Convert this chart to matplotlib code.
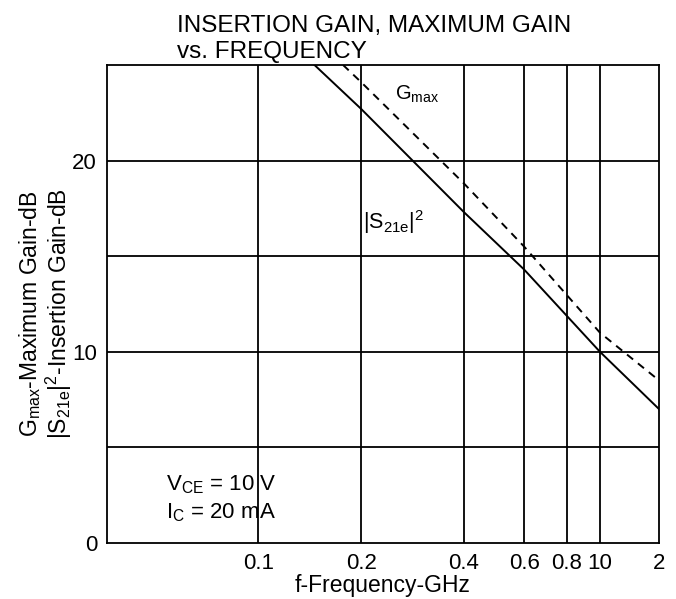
import matplotlib.pyplot as plt

plt.rcParams['font.family'] = ['Liberation Sans', 'DejaVu Sans']
plt.rcParams['mathtext.fontset'] = 'custom'
plt.rcParams['mathtext.rm'] = 'Liberation Sans'

# insertion gain |S21e|^2 (solid) and maximum gain Gmax (dashed)
freq_s21 = [0.146, 0.2, 0.4, 0.6, 1.0, 1.49]
gain_s21 = [25.0, 22.7, 17.3, 14.3, 10.0, 7.0]
freq_gmax = [0.177, 0.2, 0.4, 0.6, 1.0, 1.49]
gain_gmax = [25.0, 24.1, 18.8, 15.5, 11.0, 8.5]

# axis ticks as printed on the sheet (right edge is labelled "2", 1.0 is printed "10")
x_ticks = [0.1, 0.2, 0.4, 0.6, 0.8, 1.0, 1.49]
x_labels = ['0.1', '0.2', '0.4', '0.6', '0.8', '10', '2']
x_grid = [0.1, 0.2, 0.4, 0.6, 0.8, 1.0]
y_ticks = [0, 10, 20]
y_grid = [5, 10, 15, 20]

fig = plt.figure(figsize=(6.76, 5.99), dpi=100)
ax = fig.add_axes([0.158, 0.0935, 0.817, 0.798])

ax.plot(freq_s21, gain_s21, color='black', lw=1.4)
ax.plot(freq_gmax, gain_gmax, color='black', lw=1.4, ls=(0, (4, 3.2)))

ax.set_xscale('log')
ax.set_xlim(0.036, 1.49)
ax.set_ylim(0, 25)

for x in x_grid:
    ax.axvline(x, color='black', lw=1.3, zorder=0)
for y in y_grid:
    ax.axhline(y, color='black', lw=1.3, zorder=0)

ax.set_xticks(x_ticks)
ax.set_xticklabels(x_labels)
ax.minorticks_off()
ax.set_yticks(y_ticks)
ax.tick_params(length=0, labelsize=16, pad=7)
for s in ax.spines.values():
    s.set_linewidth(1.3)

ax.set_xlabel('f-Frequency-GHz', fontsize=16.5, labelpad=0)

ax.text(0.252, 23.2, r'$\mathregular{G_{max}}$', fontsize=14.5)
ax.text(0.203, 16.4, r'$\mathregular{|S_{21e}|^2}$', fontsize=15.5)
ax.text(0.0535, 3.05, r'$\mathregular{V_{CE}}$ = 10 V', fontsize=16, va='center')
ax.text(0.0535, 1.6, r'$\mathregular{I_{C}}$ = 20 mA', fontsize=16, va='center')

fig.text(0.044, 0.476, r'$\mathregular{G_{max}}$-Maximum Gain-dB', rotation=90,
         fontsize=16.5, ha='center', va='center')
fig.text(0.087, 0.476, r'$\mathregular{|S_{21e}|^2}$-Insertion Gain-dB', rotation=90,
         fontsize=16.5, ha='center', va='center')

fig.text(0.262, 0.975, 'INSERTION GAIN, MAXIMUM GAIN\nvs. FREQUENCY', fontsize=17.5,
         ha='left', va='top', linespacing=1.25)

fig.savefig('out.png', dpi=100)
